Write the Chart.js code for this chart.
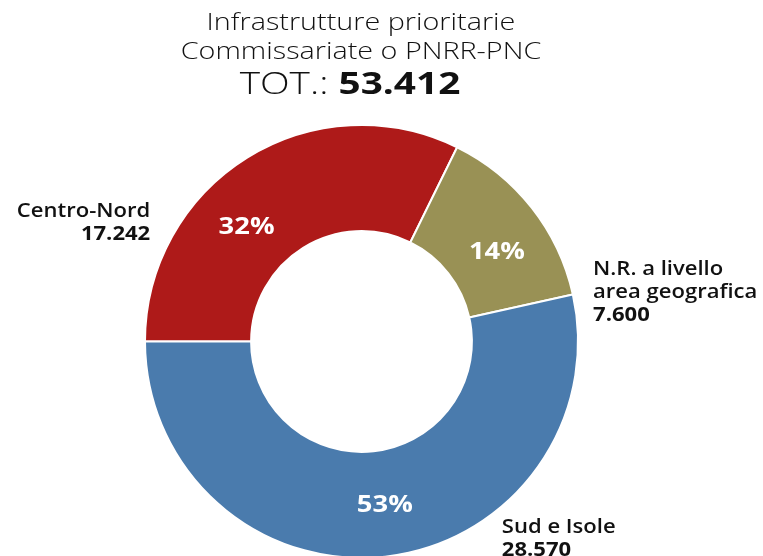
<!DOCTYPE html>
<html>
<head>
<meta charset="utf-8">
<script src="https://cdn.jsdelivr.net/npm/chart.js@4.4.0/dist/chart.umd.min.js"></script>
<style>
  html, body { margin: 0; padding: 0; background: #ffffff; }
  #wrap { width: 763px; height: 556px; overflow: hidden; position: relative; }
  canvas { display: block; }
</style>
</head>
<body>
<div id="wrap"><canvas id="c" width="763" height="600"></canvas></div>
<script>
// ---- data ----
const categories = ['Centro-Nord', 'N.R. a livello area geografica', 'Sud e Isole'];
const values = [17242, 7600, 28570];
const percentLabels = ['32%', '14%', '53%'];
const valueLabels = ['17.242', '7.600', '28.570'];
const nameLines = [['Centro-Nord'], ['N.R. a livello', 'area geografica'], ['Sud e Isole']];
const titleLines = ['Infrastrutture prioritarie', 'Commissariate o PNRR-PNC'];
const totalPrefix = 'TOT.: ';
const totalLabel = '53.412';
const colors = ['#AE1A19', '#999155', '#4A7BAD'];

const FONT = '"Open Sans", "Lato", sans-serif';

function drawText(ctx, text, x, y, align, sx) {
  ctx.save();
  ctx.translate(x, y);
  ctx.scale(sx, 1);
  ctx.textAlign = align;
  ctx.fillText(text, 0, 0);
  ctx.restore();
}

const labelPlugin = {
  id: 'labelPlugin',
  afterDraw(chart, args, opts) {
    const ctx = chart.ctx;
    const meta = chart.getDatasetMeta(0);
    ctx.save();
    // title
    ctx.fillStyle = '#111';
    ctx.textBaseline = 'alphabetic';
    ctx.font = '300 23px ' + FONT;
    drawText(ctx, titleLines[0], opts.titleX, opts.titleY[0], 'center', opts.titleScale);
    drawText(ctx, titleLines[1], opts.titleX, opts.titleY[1], 'center', opts.titleScale);
    ctx.font = '300 31px ' + FONT;
    const w1 = ctx.measureText(totalPrefix).width * opts.titleScale;
    ctx.font = '700 31px ' + FONT;
    const w2 = ctx.measureText(totalLabel).width * opts.titleScale;
    const startX = opts.totalX - (w1 + w2) / 2;
    ctx.font = '300 31px ' + FONT;
    drawText(ctx, totalPrefix, startX, opts.titleY[2], 'left', opts.titleScale);
    ctx.font = '700 31px ' + FONT;
    drawText(ctx, totalLabel, startX + w1, opts.titleY[2], 'left', opts.titleScale);

    meta.data.forEach((arc, i) => {
      const p = arc.getProps(['x', 'y', 'startAngle', 'endAngle', 'innerRadius', 'outerRadius'], true);
      // percentage inside
      const a = p.startAngle + (p.endAngle - p.startAngle) * opts.fractions[i];
      const r = (p.innerRadius + p.outerRadius) / 2;
      ctx.fillStyle = '#ffffff';
      ctx.font = '700 24px ' + FONT;
      ctx.textBaseline = 'middle';
      drawText(ctx, percentLabels[i], p.x + Math.cos(a) * r, p.y + Math.sin(a) * r + 2, 'center', opts.pctScale);
      // outside label
      const o = opts.outer[i];
      const ang = (o.angle - 90) * Math.PI / 180;
      const rr = p.outerRadius + o.dist;
      const ax = p.x + Math.cos(ang) * rr;
      let ay = p.y + Math.sin(ang) * rr;
      ctx.fillStyle = '#111';
      ctx.textBaseline = 'alphabetic';
      ctx.font = '600 19px ' + FONT;
      nameLines[i].forEach(line => { drawText(ctx, line, ax, ay, o.align, opts.labelScale); ay += opts.lineH; });
      ctx.font = '700 19px ' + FONT;
      drawText(ctx, valueLabels[i], ax, ay, o.align, opts.labelScale);
    });
    ctx.restore();
  }
};

new Chart(document.getElementById('c'), {
  type: 'doughnut',
  data: {
    labels: categories,
    datasets: [{
      data: values,
      backgroundColor: colors,
      borderColor: '#ffffff',
      borderWidth: 2
    }]
  },
  options: {
    responsive: false,
    animation: false,
    rotation: 270,
    cutout: '51%',
    layout: { padding: { left: 144, right: 184, top: 124, bottom: 41 } },
    plugins: {
      legend: { display: false },
      tooltip: { enabled: false },
      labelPlugin: {
        titleX: 361,
        titleY: [30, 59, 94],
        totalX: 350,
        titleScale: 1.25,
        pctScale: 1.14,
        labelScale: 1.16,
        fractions: [0.39, 0.58, 0.49],
        lineH: 23,
        outer: [
          { angle: 300.6, dist: 29, align: 'right' },
          { angle: 73.9, dist: 24.5, align: 'left' },
          { angle: 143.7, dist: 20.6, align: 'left' }
        ]
      }
    }
  },
  plugins: [labelPlugin]
});
</script>
</body>
</html>
